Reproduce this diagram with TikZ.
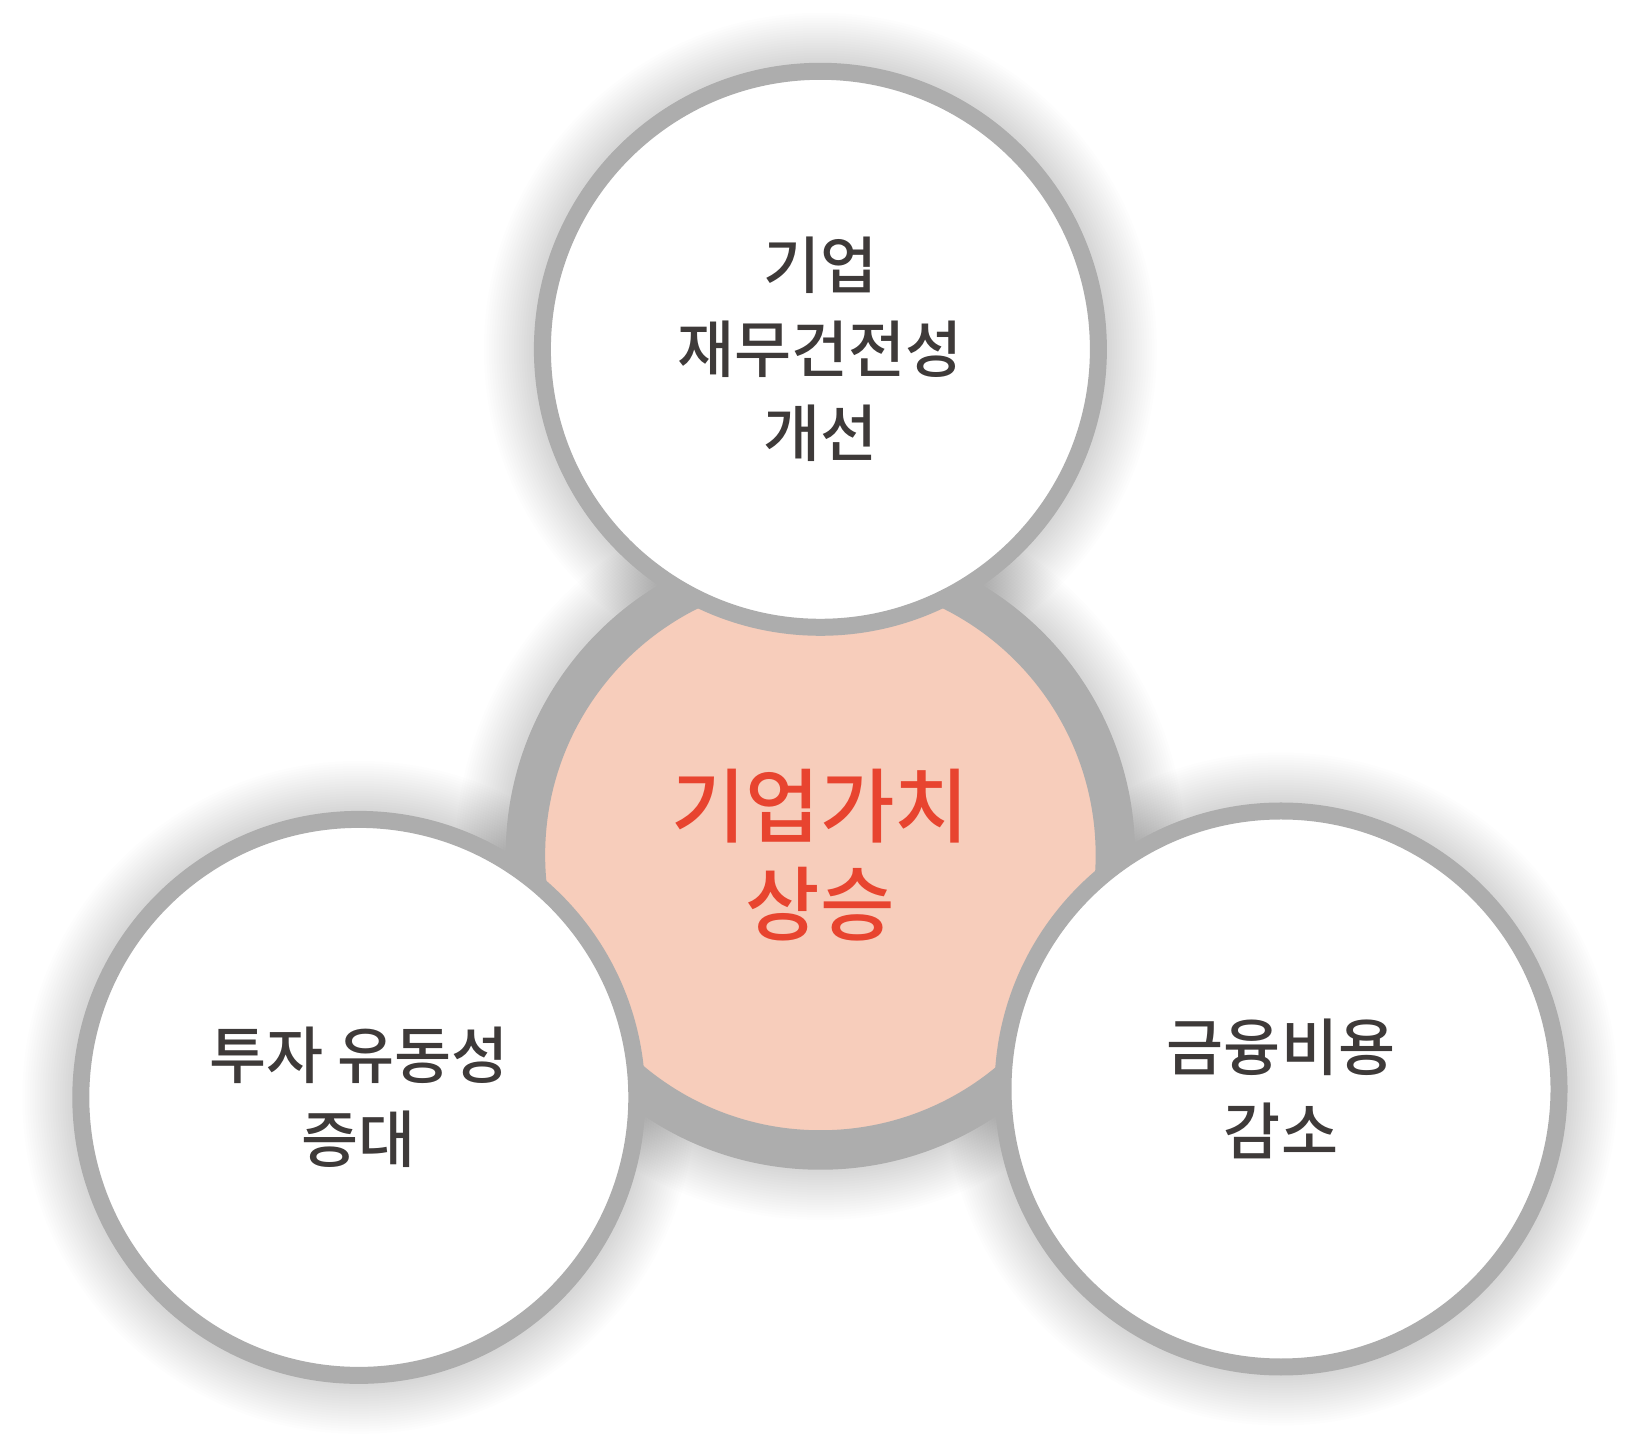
\documentclass[tikz,border=0pt]{standalone}
\usepackage{fontspec}
\setmainfont{Noto Sans CJK KR Medium}
\definecolor{ringgray}{HTML}{ADADAD}
\definecolor{peach}{HTML}{F7CDBB}
\definecolor{redtxt}{HTML}{E8442F}
\definecolor{darktxt}{HTML}{3E3A39}
\newcommand\softshadow[2]{%
  \foreach \k in {0,...,19} {\fill[black, opacity=0.009] (#1) circle ({#2+50-2.5*\k});}}
\tikzset{
  whitecircle/.style={circle, draw=ringgray, line width=17pt, fill=white,
    minimum size=556pt, inner sep=0pt, align=center, text=darktxt,
    font=\fontsize{62}{84}\selectfont},
  corecircle/.style={circle, draw=ringgray, line width=39.5pt, fill=peach,
    minimum size=590pt, inner sep=0pt, align=center, text=redtxt,
    font=\fontsize{81}{98}\selectfont}
}
\begin{document}
\begin{tikzpicture}[x=1pt,y=1pt]
\useasboundingbox (0,0) rectangle (1645,1448);
\fill[white] (0,0) rectangle (1645,1448);
\coordinate (pC) at (820.4,593);
\coordinate (pT) at (820.4,1098.7);
\coordinate (pL) at (358.8,350.6);
\coordinate (pR) at (1281,359);
\softshadow{pC}{315}
\softshadow{pT}{286.5}
\softshadow{pL}{286.5}
\softshadow{pR}{286.5}
\node[corecircle] (C) at (pC) {기업가치\\상승};
\node[whitecircle] (T) at (pT) {기업\\재무건전성\\개선};
\node[whitecircle] (L) at (pL) {투자 유동성\\증대};
\node[whitecircle] (R) at (pR) {금융비용\\감소};
\end{tikzpicture}
\end{document}
